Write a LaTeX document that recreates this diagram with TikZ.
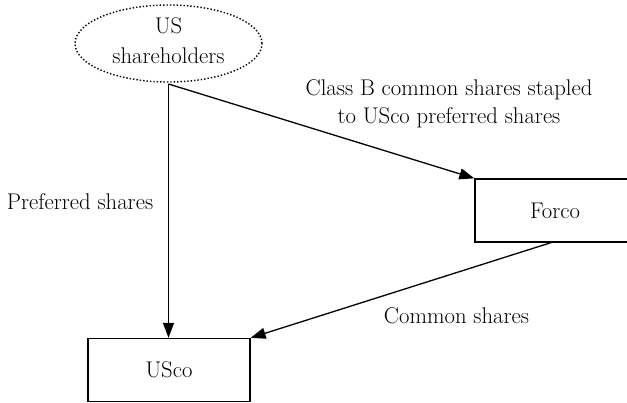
\documentclass[tikz,border=0pt]{standalone}
\usetikzlibrary{shapes.geometric,arrows.meta,calc}
\begin{document}
\begin{tikzpicture}[x=1pt,y=-1pt,
  every node/.style={font=\fontsize{22.7}{28}\selectfont},
  lbl/.style={inner sep=0pt, align=center},
  boxnode/.style={draw, line width=1.3pt, inner sep=0pt, minimum width=#1, minimum height=63pt},
  conn/.style={line width=1.3pt, -{Triangle[length=15pt,width=11pt]}}]
\useasboundingbox (0,0) rectangle (627,402);
\node[ellipse, draw, dotted, line width=1.4pt, minimum width=187pt, minimum height=77pt, inner sep=0pt] (e) at (168.5,43.5) {};
\node[lbl, font=\fontsize{22.7}{30}\selectfont] (et) at (168.5,40.5) {US\\shareholders};
\node[boxnode=160pt] (f) at (555,210.5) {Forco};
\node[boxnode=162pt] (u) at (169,370) {USco};
\coordinate (s) at (168.5,84);
\coordinate (fs) at (553,242);
\draw[conn] (s) -- (s |- u.north);
\draw[conn] (s) -- (f.north west);
\draw[conn] (fs) -- (u.north east);
\node[lbl] (t1) at (449,103.5) {Class B common shares stapled\\to USco preferred shares};
\node[lbl, anchor=base] (t2) at (80,209) {Preferred shares};
\node[lbl, anchor=base] (t3) at (456.5,323) {Common shares};
\end{tikzpicture}
\end{document}
